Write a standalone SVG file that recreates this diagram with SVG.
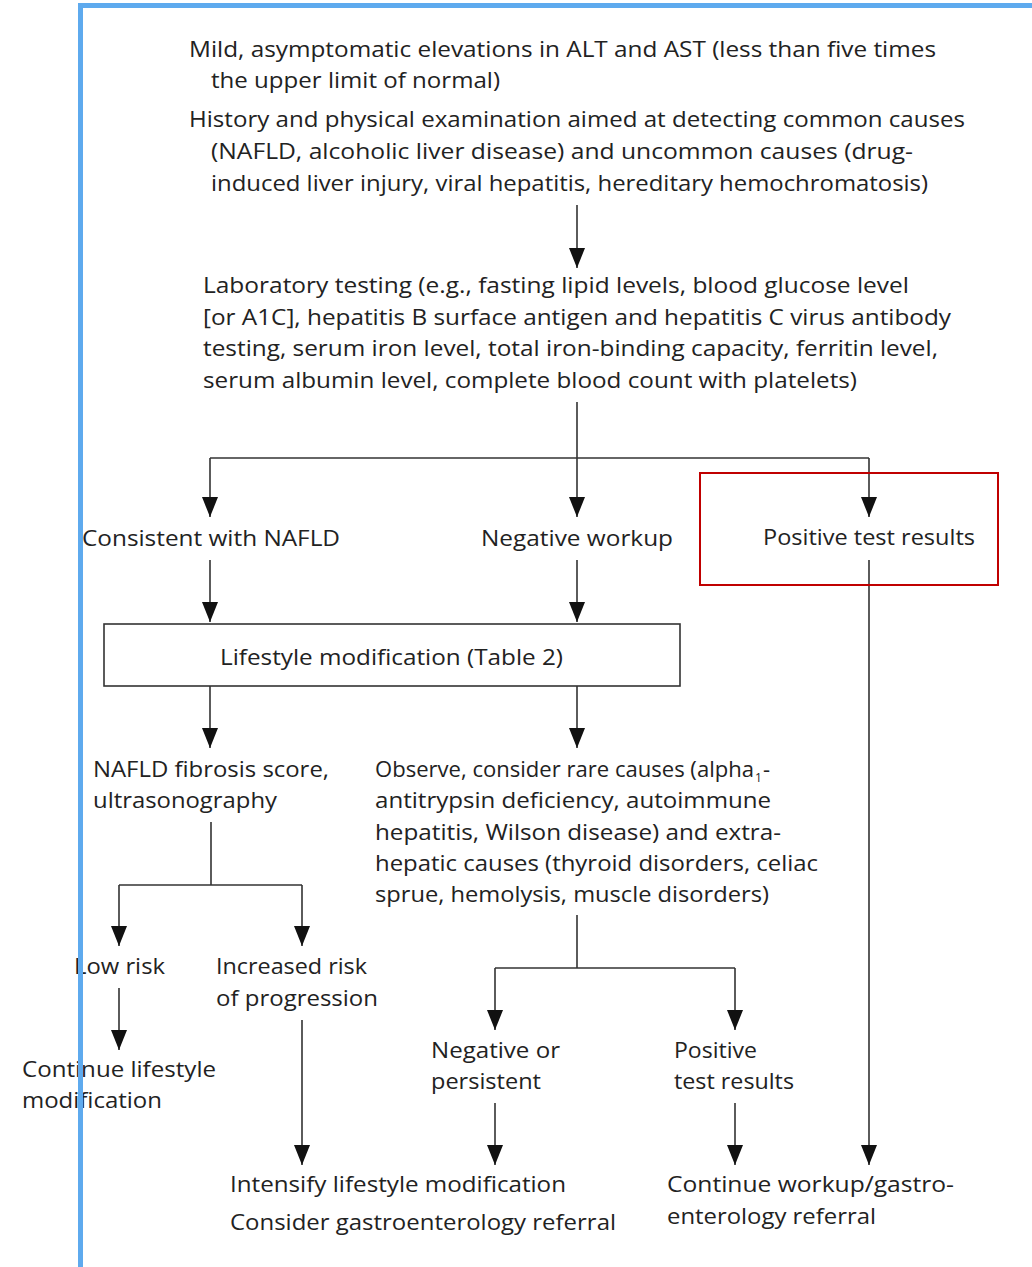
<svg xmlns="http://www.w3.org/2000/svg" width="1032" height="1267" viewBox="0 0 1032 1267">
<style>
text{font-family:"Open Sans","Noto Sans","DejaVu Sans",sans-serif;font-size:22px;fill:#222;}
.c{fill:none;stroke:#333;stroke-width:1.6;}
.a{marker-end:url(#ah);}
</style>
<defs>
<marker id="ah" markerUnits="userSpaceOnUse" viewBox="0 0 20 16" markerWidth="20" markerHeight="16" refX="20" refY="8" orient="auto">
<path d="M0,0 L20,8 L0,16 z" fill="#111"/>
</marker>
</defs>
<rect width="1032" height="1267" fill="#fff"/>
<g id="connectors">
<line class="c a" x1="577" y1="205" x2="577" y2="268"/>
<polyline class="c" points="577,402 577,458"/>
<polyline class="c" points="210,458 869,458"/>
<line class="c a" x1="210" y1="458" x2="210" y2="517"/>
<line class="c a" x1="577" y1="458" x2="577" y2="517"/>
<line class="c a" x1="869" y1="458" x2="869" y2="517"/>
<line class="c a" x1="210" y1="560" x2="210" y2="622"/>
<line class="c a" x1="577" y1="560" x2="577" y2="622"/>
<line class="c a" x1="869" y1="560" x2="869" y2="1165"/>
<line class="c a" x1="210" y1="686" x2="210" y2="748"/>
<line class="c a" x1="577" y1="686" x2="577" y2="748"/>
<polyline class="c" points="211,822 211,885"/>
<polyline class="c" points="119,885 302,885"/>
<line class="c a" x1="119" y1="885" x2="119" y2="946"/>
<line class="c a" x1="302" y1="885" x2="302" y2="946"/>
<line class="c a" x1="119" y1="988" x2="119" y2="1050"/>
<line class="c a" x1="302" y1="1020" x2="302" y2="1165"/>
<polyline class="c" points="577,915 577,968"/>
<polyline class="c" points="495,968 735,968"/>
<line class="c a" x1="495" y1="968" x2="495" y2="1030"/>
<line class="c a" x1="735" y1="968" x2="735" y2="1030"/>
<line class="c a" x1="495" y1="1103" x2="495" y2="1165"/>
<line class="c a" x1="735" y1="1103" x2="735" y2="1165"/>
</g>
<g id="n-start">
<text x="189" y="57" textLength="747" lengthAdjust="spacingAndGlyphs">Mild, asymptomatic elevations in ALT and AST (less than five times</text>
<text x="211" y="88" textLength="289" lengthAdjust="spacingAndGlyphs">the upper limit of normal)</text>
</g>
<g id="n-history">
<text x="189" y="127" textLength="776" lengthAdjust="spacingAndGlyphs">History and physical examination aimed at detecting common causes</text>
<text x="211" y="159" textLength="702" lengthAdjust="spacingAndGlyphs">(NAFLD, alcoholic liver disease) and uncommon causes (drug-</text>
<text x="211" y="191" textLength="717" lengthAdjust="spacingAndGlyphs">induced liver injury, viral hepatitis, hereditary hemochromatosis)</text>
</g>
<g id="n-lab">
<text x="203" y="293" textLength="706" lengthAdjust="spacingAndGlyphs">Laboratory testing (e.g., fasting lipid levels, blood glucose level</text>
<text x="203" y="325" textLength="748" lengthAdjust="spacingAndGlyphs">[or A1C], hepatitis B surface antigen and hepatitis C virus antibody</text>
<text x="203" y="356" textLength="735" lengthAdjust="spacingAndGlyphs">testing, serum iron level, total iron-binding capacity, ferritin level,</text>
<text x="203" y="388" textLength="654" lengthAdjust="spacingAndGlyphs">serum albumin level, complete blood count with platelets)</text>
</g>
<g id="n-nafld">
<text x="82" y="546" textLength="258" lengthAdjust="spacingAndGlyphs">Consistent with NAFLD</text>
</g>
<g id="n-negwork">
<text x="481" y="546" textLength="192" lengthAdjust="spacingAndGlyphs">Negative workup</text>
</g>
<g id="n-pos">
<rect x="700" y="473" width="298" height="112" fill="none" stroke="#c00000" stroke-width="2"/>
<text x="763" y="545" textLength="212" lengthAdjust="spacingAndGlyphs">Positive test results</text>
</g>
<g id="n-lifestyle">
<rect x="104" y="624" width="576" height="62" fill="none" stroke="#333" stroke-width="1.6"/>
<text x="220" y="665" textLength="343" lengthAdjust="spacingAndGlyphs">Lifestyle modification (Table 2)</text>
</g>
<g id="n-fibrosis">
<text x="93" y="777" textLength="236" lengthAdjust="spacingAndGlyphs">NAFLD fibrosis score,</text>
<text x="93" y="808" textLength="184" lengthAdjust="spacingAndGlyphs">ultrasonography</text>
</g>
<g id="n-observe">
<text x="375" y="777" textLength="379" lengthAdjust="spacingAndGlyphs">Observe, consider rare causes (alpha</text>
<text x="755" y="782" style="font-size:12px">1</text>
<text x="763" y="777">-</text>
<text x="375" y="808" textLength="396" lengthAdjust="spacingAndGlyphs">antitrypsin deficiency, autoimmune</text>
<text x="375" y="840" textLength="406" lengthAdjust="spacingAndGlyphs">hepatitis, Wilson disease) and extra-</text>
<text x="375" y="871" textLength="443" lengthAdjust="spacingAndGlyphs">hepatic causes (thyroid disorders, celiac</text>
<text x="375" y="902" textLength="394" lengthAdjust="spacingAndGlyphs">sprue, hemolysis, muscle disorders)</text>
</g>
<g id="n-lowrisk">
<text x="74" y="974" textLength="91" lengthAdjust="spacingAndGlyphs">Low risk</text>
</g>
<g id="n-increased">
<text x="216" y="974" textLength="151" lengthAdjust="spacingAndGlyphs">Increased risk</text>
<text x="216" y="1006" textLength="162" lengthAdjust="spacingAndGlyphs">of progression</text>
</g>
<g id="n-continue">
<text x="22" y="1077" textLength="194" lengthAdjust="spacingAndGlyphs">Continue lifestyle</text>
<text x="22" y="1108" textLength="140" lengthAdjust="spacingAndGlyphs">modification</text>
</g>
<g id="n-negpers">
<text x="431" y="1058" textLength="129" lengthAdjust="spacingAndGlyphs">Negative or</text>
<text x="431" y="1089" textLength="110" lengthAdjust="spacingAndGlyphs">persistent</text>
</g>
<g id="n-pos2">
<text x="674" y="1058" textLength="83" lengthAdjust="spacingAndGlyphs">Positive</text>
<text x="674" y="1089" textLength="120" lengthAdjust="spacingAndGlyphs">test results</text>
</g>
<g id="n-intensify">
<text x="230" y="1192" textLength="336" lengthAdjust="spacingAndGlyphs">Intensify lifestyle modification</text>
<text x="230" y="1230" textLength="386" lengthAdjust="spacingAndGlyphs">Consider gastroenterology referral</text>
</g>
<g id="n-workup">
<text x="667" y="1192" textLength="287" lengthAdjust="spacingAndGlyphs">Continue workup/gastro-</text>
<text x="667" y="1224" textLength="209" lengthAdjust="spacingAndGlyphs">enterology referral</text>
</g>
<g id="frame">
<rect x="78" y="3" width="954" height="5" fill="#5EAAEE"/>
<rect x="78" y="3" width="5" height="1264" fill="#5EAAEE"/>
</g>
</svg>
